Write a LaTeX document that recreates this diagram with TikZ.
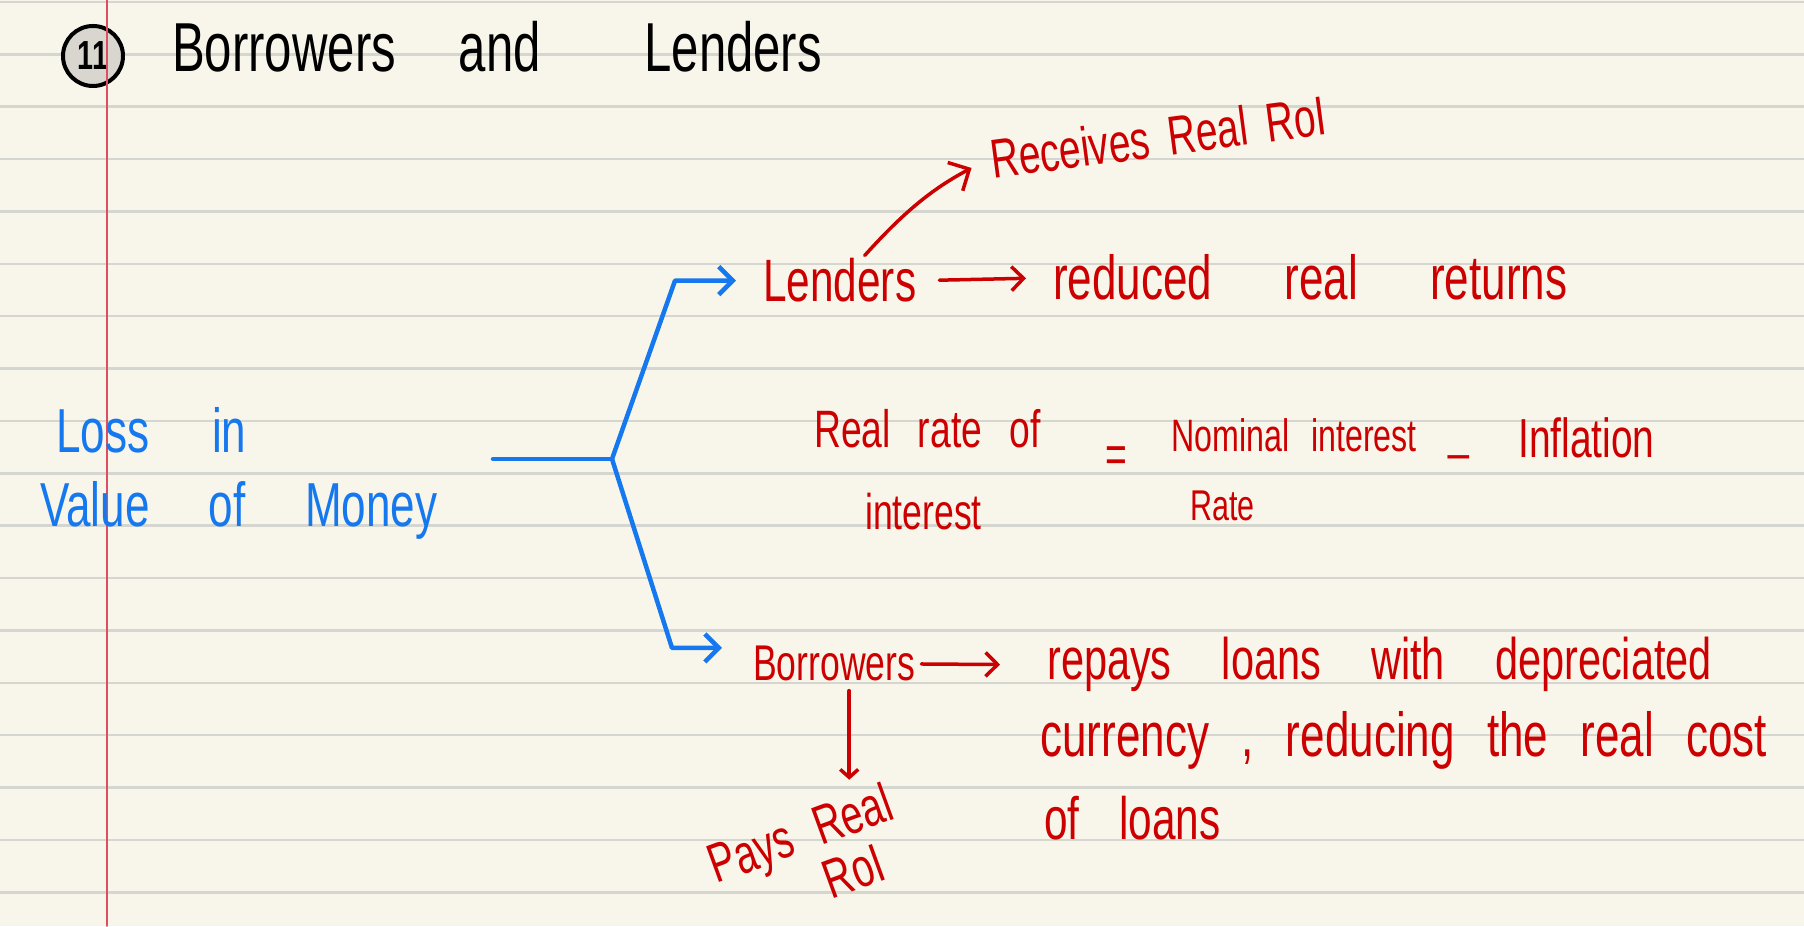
\documentclass[tikz,border=0pt]{standalone}
\usepackage{fontspec}
\usepackage{graphicx}
\setmainfont{Liberation Sans}
\usetikzlibrary{arrows.meta,%
                positioning}
\definecolor{paper}{RGB}{248,246,234}
\definecolor{rulegray}{RGB}{214,214,208}
\definecolor{margin}{RGB}{221,78,96}
\definecolor{inkblue}{RGB}{22,120,238}
\definecolor{inkred}{RGB}{204,0,0}
\definecolor{circfill}{RGB}{216,214,206}
\tikzstyle{ruled}=[draw=rulegray,line width=2.5bp]
\tikzstyle{blueink}=[text=inkblue,inner sep=3bp]
\tikzstyle{redink}=[text=inkred,inner sep=3bp]
\tikzstyle{bluepen}=[draw=inkblue,line width=4.5bp]
\tikzstyle{redpen}=[draw=inkred,line width=3.5bp]
\newcommand{\hw}[2][0bp]{\scalebox{0.85}[1.2]{\spaceskip=#1\relax #2}}
\newcommand{\fs}[1]{\fontsize{#1}{#1}\selectfont}

\begin{document}
\begin{tikzpicture}[>={Straight Barb[length=12bp,width=24bp]},line join=round,line cap=round,x=1bp,y=1bp]
	%% paper
	\useasboundingbox (0,0) rectangle (1804,926);
	\fill[paper] (0,0) rectangle (1804,926);
	\foreach \k in {0,...,17}
	  \draw[ruled] (0,{924-52.37*\k}) -- (1804,{924-52.37*\k});
	\node (num) at (93,870) [circle,draw=black,line width=4bp,fill=circfill,minimum size=60bp,inner sep=0pt,font=\fs{34}\bfseries] {\hw{11}};
	\draw[draw=margin,line width=1.8bp] (107,0) -- (107,926);
	%% heading and root
	\node (title) at (172,854) [anchor=base west,inner sep=0pt,font=\fs{58}] {\hw[74bp]{Borrowers and \hspace{48bp}Lenders}};
	\node (loss) at (53,473) [blueink,anchor=base west,font=\fs{52}] {\hw[74bp]{Loss in}};
	\node (value) at (37,399) [blueink,anchor=base west,font=\fs{52}] {\hw[70bp]{Value of Money}};
	%% lenders
	\node (lenders) at (760,624) [redink,anchor=base west,font=\fs{50}] {\hw{Lenders}};
	\node (returns) at (1050,626) [redink,anchor=base west,font=\fs{52}] {\hw[85bp]{reduced real returns}};
	\node (receives) at (990,747) [redink,anchor=base west,rotate=7.5,font=\fs{46}] {\hw[22bp]{Receives Real RoI}};
	%% formula
	\node (realrate) at (811,478) [redink,anchor=base west,font=\fs{44}] {\hw[32bp]{Real rate of}};
	\node (eq) at (1116,466) [redink,font=\fs{44}] {\hw{=}};
	\node (nominal) at (1168,474) [redink,anchor=base west,font=\fs{38}] {\hw[26bp]{Nominal interest}};
	\node (minus) at (1445,477) [redink,anchor=base west,font=\fs{44}] {\hw{\_}};
	\node (inflation) at (1515,468) [redink,anchor=base west,font=\fs{46}] {\hw{Inflation}};
	\node (interest) at (862,396) [redink,anchor=base west,font=\fs{42}] {\hw{interest}};
	\node (rate) at (1187,405) [redink,anchor=base west,font=\fs{36}] {\hw{Rate}};
	%% borrowers
	\node (borrowers) at (750,245) [redink,anchor=base west,font=\fs{42}] {\hw{Borrowers}};
	\node (repays) at (1044,246) [redink,anchor=base west,font=\fs{49}] {\hw[59bp]{repays loans with depreciated}};
	\node (currency) at (1037,169) [redink,anchor=base west,font=\fs{52}] {\hw[38bp]{currency , reducing the real cost}};
	\node (ofloans) at (1041,86) [redink,anchor=base west,font=\fs{50}] {\hw[47bp]{of loans}};
	\node (pays) at (809,68) [redink,rotate=20,align=center,font={\fontsize{46}{54}\selectfont}] {\hw[29bp]{Pays Real}\\\hspace{75bp}\hw{RoI}};
	%% blue fork
	\coordinate (stem) at (493,467);
	\coordinate (fork) at (612,467);
	\coordinate (upbend) at (675,646);
	\coordinate (lowbend) at (672,276);
	\coordinate (lowend) at ([yshift=16bp]borrowers.west);
	\draw[bluepen] (stem) -- (fork);
	\draw[bluepen,-{Straight Barb[length=14bp,width=28bp]},shorten >=24bp] (fork) -- (upbend |- lenders.west) -- (lenders.west);
	\draw[bluepen,-{Straight Barb[length=14bp,width=28bp]},shorten >=28bp] (fork) -- (lowbend |- lowend) -- (lowend);
	%% red arrows
	\draw[redpen,->,shorten <=20bp,shorten >=24bp] (lenders.east) -- (returns.west);
	\draw[redpen,-{Straight Barb[length=16bp,width=32bp]},shorten >=18bp] ([xshift=25bp]lenders.north) to[bend left=10] (receives.west);
	\draw[redpen,->,shorten <=3bp,shorten >=44bp] (borrowers.east) -- (repays.west);
	\coordinate (drop) at ([xshift=15bp]borrowers.south);
	\draw[redpen,-{Straight Barb[length=8bp,width=18bp]},shorten <=6bp,shorten >=31bp] (drop) -- (drop |- pays.north);
\end{tikzpicture}
\end{document}
